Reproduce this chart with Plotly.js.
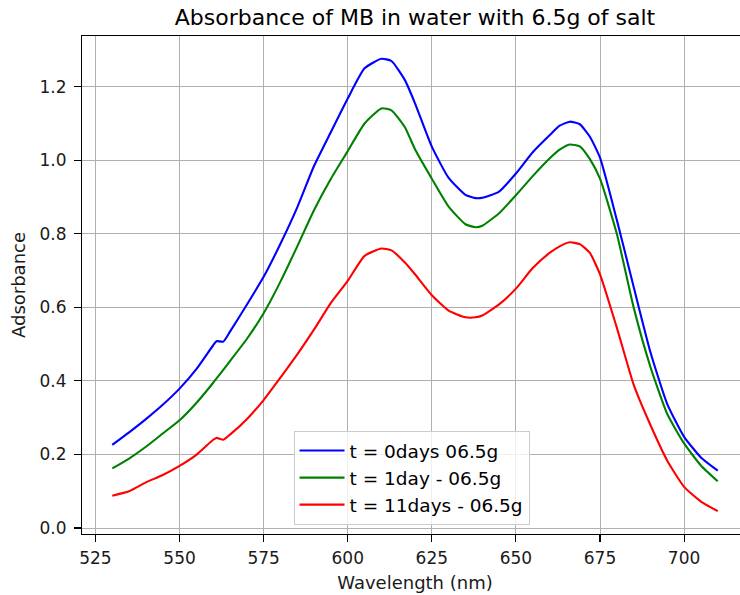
<!DOCTYPE html>
<html>
<head>
<meta charset="utf-8">
<script src="https://cdn.plot.ly/plotly-3.0.1.min.js"></script>
<style>
html,body{margin:0;padding:0;overflow:hidden;background:#fff;}
#chart{width:770px;height:595px;}
</style>
</head>
<body>
<div id="chart"></div>
<script>
const wavelength = [530,535,540,545,550,555,560,561,563,565,570,575,580,585,590,595,600,605,610,613,617,620,625,630,635,638,640,645,650,655,660,663,666,669,672,675,680,685,690,695,700,705,710];
const day0 = [0.226,0.260,0.296,0.335,0.379,0.432,0.497,0.508,0.507,0.534,0.607,0.683,0.773,0.872,0.985,1.077,1.168,1.250,1.276,1.270,1.218,1.155,1.037,0.952,0.906,0.897,0.898,0.915,0.964,1.022,1.068,1.094,1.105,1.098,1.064,1.007,0.838,0.656,0.478,0.337,0.248,0.192,0.156];
const day1 = [0.162,0.189,0.221,0.257,0.293,0.340,0.395,0.407,0.430,0.454,0.514,0.584,0.670,0.766,0.865,0.950,1.025,1.100,1.141,1.136,1.090,1.030,0.950,0.874,0.826,0.818,0.822,0.856,0.905,0.957,1.005,1.029,1.043,1.038,1.003,0.950,0.800,0.600,0.438,0.310,0.230,0.170,0.127];
const day11 = [0.088,0.100,0.124,0.144,0.169,0.199,0.240,0.245,0.240,0.254,0.296,0.348,0.409,0.472,0.540,0.612,0.672,0.740,0.760,0.755,0.722,0.690,0.633,0.591,0.573,0.573,0.578,0.608,0.651,0.707,0.748,0.766,0.777,0.772,0.748,0.690,0.545,0.390,0.280,0.183,0.112,0.072,0.046];
const seriesNames = ["t = 0days 06.5g","t = 1day - 06.5g","t = 11days - 06.5g"];
const seriesColors = ["#0000ff","#008000","#ff0000"];
const xTicks = [525,550,575,600,625,650,675,700];
const yTicks = [0.0,0.2,0.4,0.6,0.8,1.0,1.2];

const fam = "DejaVu Sans, sans-serif";
const tickFont = {family:fam, size:17, color:"#1a1a1a"};
const labelFont = {family:fam, size:18, color:"#1a1a1a"};
const traces = [day0, day1, day11].map((ys,i)=>({
  x: wavelength, y: ys, type:"scatter", mode:"lines",
  name: seriesNames[i],
  line:{color:seriesColors[i], width:2.1, shape:"spline", smoothing:0.5}
}));

const axisCommon = {
  showgrid:true, gridcolor:"#b0b0b0", gridwidth:1,
  zeroline:false, showline:true, linecolor:"#000", linewidth:1.1, mirror:true,
  ticks:"outside", ticklen:7, tickcolor:"#000", tickwidth:1.1,
  tickfont:tickFont
};

const layout = {
  width:770, height:595,
  margin:{l:82, r:22, t:36, b:61},
  paper_bgcolor:"#fff", plot_bgcolor:"#fff",
  font:labelFont,
  showlegend:true,
  title:{text:"Absorbance of MB in water with 6.5g of salt", font:{family:fam, size:22, color:"#000"}, x:0.5, xref:"paper", xanchor:"center", y:0.971, yanchor:"middle"},
  xaxis:Object.assign({}, axisCommon, {
    range:[521, 719], tickvals:xTicks, ticktext:xTicks.map(String),
    ticklabelstandoff:1,
    title:{text:"Wavelength (nm)", font:labelFont, standoff:9}
  }),
  yaxis:Object.assign({}, axisCommon, {
    range:[-0.0163, 1.338], tickvals:yTicks, ticktext:yTicks.map(v=>v.toFixed(1)),
    ticklabelstandoff:4,
    title:{text:"Adsorbance", font:labelFont, standoff:9}
  }),
  legend:{
    x:0.3176, y:0.018, xanchor:"left", yanchor:"bottom",
    bgcolor:"rgba(255,255,255,0.8)", bordercolor:"#cccccc", borderwidth:1,
    font:{family:fam, size:18.5, color:"#000"},
    itemwidth:45,
    tracegroupgap:0
  }
};

Plotly.newPlot("chart", traces, layout, {staticPlot:true, displayModeBar:false});
</script>
</body>
</html>
